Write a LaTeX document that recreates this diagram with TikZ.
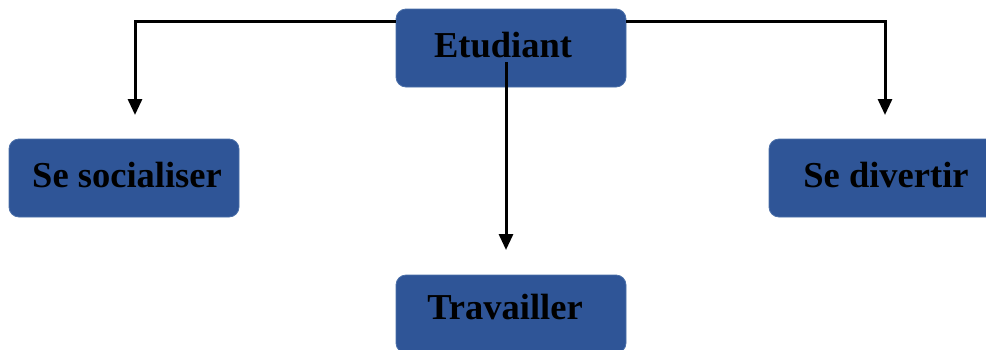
\documentclass[tikz,border=0pt]{standalone}
\usepackage{fontspec}
\setmainfont{Liberation Serif}
\usetikzlibrary{arrows.meta}
\definecolor{boxblue}{HTML}{2F5597}
\definecolor{boxedge}{HTML}{4A6FA8}
\tikzset{
  boxnode/.style={rectangle, rounded corners=10pt, fill=boxblue, draw=boxedge, line width=0.8pt,
    minimum width=230pt, minimum height=78pt, inner sep=0pt},
  lbl/.style={anchor=base, inner sep=0pt, font=\fontsize{36.5}{40}\selectfont\bfseries, text=black},
  conn/.style={line width=3pt, -{Triangle[width=14pt,length=16pt]}}
}
\begin{document}
\begin{tikzpicture}[x=1pt,y=-1pt]
\useasboundingbox (0,0) rectangle (986,349);
\clip (0,0) rectangle (986,349);
\node[boxnode] (etu) at (511,48) {};
\node[boxnode] (soc) at (124,178) {};
\node[boxnode] (div) at (884,178) {};
\node[boxnode] (tra) at (511,314) {};
\node[lbl] (etut) at (503,57) {Etudiant};
\node[lbl] (soct) at (127,187) {Se socialiser};
\node[lbl] (divt) at (886,187) {Se divertir};
\node[lbl] (trat) at (505,319) {Travailler};
\coordinate (socin) at (135,115);
\coordinate (divin) at (885,115);
\coordinate (train) at (506,250);
\draw[conn] ([yshift=27pt]etu.west) -| (socin);
\draw[conn] ([yshift=27pt]etu.east) -| (divin);
\draw[conn] ([xshift=-5pt,yshift=-14pt]etu.center) -- (train);
\end{tikzpicture}
\end{document}
